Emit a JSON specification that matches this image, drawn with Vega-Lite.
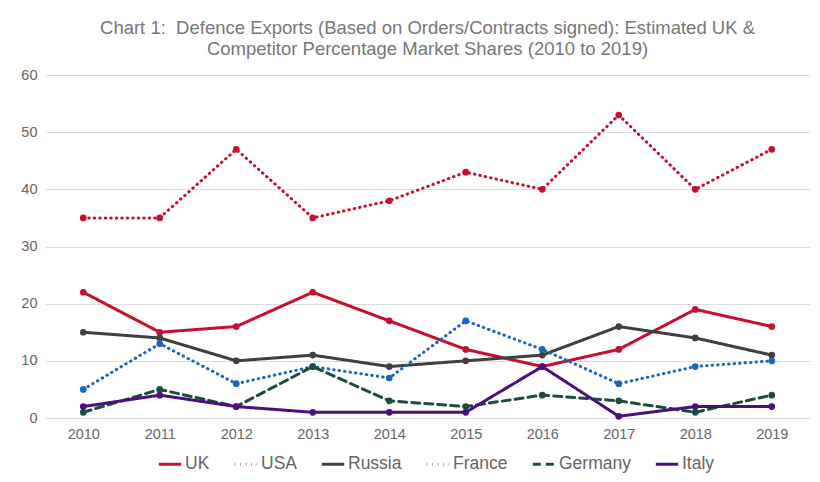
{
  "$schema": "https://vega.github.io/schema/vega-lite/v6.json",
  "width": 765,
  "height": 343,
  "autosize": {"type": "none"},
  "padding": {"left": 45, "top": 75, "right": 10, "bottom": 64},
  "background": "white",
  "title": {
    "text": ["Chart 1:\u00a0 Defence Exports (Based on Orders/Contracts signed): Estimated UK &", "Competitor Percentage Market Shares (2010 to 2019)"],
    "font": "Liberation Sans",
    "fontSize": 18.5,
    "fontWeight": "normal",
    "color": "#777777",
    "lineHeight": 21,
    "anchor": "middle",
    "offset": 9
  },
  "config": {
    "view": {"stroke": null},
    "axis": {"labelFont": "Liberation Sans", "labelColor": "#666666", "labelFontSize": 14.5, "titleColor": "#666666"},
    "legend": {"labelFont": "Liberation Sans", "labelColor": "#666666", "labelFontSize": 17.5}
  },
  "data": {
    "values": [
      {"year": "2010", "country": "UK", "value": 22},
      {"year": "2011", "country": "UK", "value": 15},
      {"year": "2012", "country": "UK", "value": 16},
      {"year": "2013", "country": "UK", "value": 22},
      {"year": "2014", "country": "UK", "value": 17},
      {"year": "2015", "country": "UK", "value": 12},
      {"year": "2016", "country": "UK", "value": 9},
      {"year": "2017", "country": "UK", "value": 12},
      {"year": "2018", "country": "UK", "value": 19},
      {"year": "2019", "country": "UK", "value": 16},
      {"year": "2010", "country": "USA", "value": 35},
      {"year": "2011", "country": "USA", "value": 35},
      {"year": "2012", "country": "USA", "value": 47},
      {"year": "2013", "country": "USA", "value": 35},
      {"year": "2014", "country": "USA", "value": 38},
      {"year": "2015", "country": "USA", "value": 43},
      {"year": "2016", "country": "USA", "value": 40},
      {"year": "2017", "country": "USA", "value": 53},
      {"year": "2018", "country": "USA", "value": 40},
      {"year": "2019", "country": "USA", "value": 47},
      {"year": "2010", "country": "Russia", "value": 15},
      {"year": "2011", "country": "Russia", "value": 14},
      {"year": "2012", "country": "Russia", "value": 10},
      {"year": "2013", "country": "Russia", "value": 11},
      {"year": "2014", "country": "Russia", "value": 9},
      {"year": "2015", "country": "Russia", "value": 10},
      {"year": "2016", "country": "Russia", "value": 11},
      {"year": "2017", "country": "Russia", "value": 16},
      {"year": "2018", "country": "Russia", "value": 14},
      {"year": "2019", "country": "Russia", "value": 11},
      {"year": "2010", "country": "France", "value": 5},
      {"year": "2011", "country": "France", "value": 13},
      {"year": "2012", "country": "France", "value": 6},
      {"year": "2013", "country": "France", "value": 9},
      {"year": "2014", "country": "France", "value": 7},
      {"year": "2015", "country": "France", "value": 17},
      {"year": "2016", "country": "France", "value": 12},
      {"year": "2017", "country": "France", "value": 6},
      {"year": "2018", "country": "France", "value": 9},
      {"year": "2019", "country": "France", "value": 10},
      {"year": "2010", "country": "Germany", "value": 1},
      {"year": "2011", "country": "Germany", "value": 5},
      {"year": "2012", "country": "Germany", "value": 2},
      {"year": "2013", "country": "Germany", "value": 9},
      {"year": "2014", "country": "Germany", "value": 3},
      {"year": "2015", "country": "Germany", "value": 2},
      {"year": "2016", "country": "Germany", "value": 4},
      {"year": "2017", "country": "Germany", "value": 3},
      {"year": "2018", "country": "Germany", "value": 1},
      {"year": "2019", "country": "Germany", "value": 4},
      {"year": "2010", "country": "Italy", "value": 2},
      {"year": "2011", "country": "Italy", "value": 4},
      {"year": "2012", "country": "Italy", "value": 2},
      {"year": "2013", "country": "Italy", "value": 1},
      {"year": "2014", "country": "Italy", "value": 1},
      {"year": "2015", "country": "Italy", "value": 1},
      {"year": "2016", "country": "Italy", "value": 9},
      {"year": "2017", "country": "Italy", "value": 0.3},
      {"year": "2018", "country": "Italy", "value": 2},
      {"year": "2019", "country": "Italy", "value": 2}
    ]
  },
  "encoding": {
    "x": {
      "field": "year", "type": "ordinal",
      "scale": {"type": "point", "padding": 0.5},
      "axis": {"title": null, "labelAngle": 0, "ticks": false, "domain": false, "grid": false, "labelPadding": 9}
    },
    "y": {
      "field": "value", "type": "quantitative",
      "scale": {"domain": [0, 60], "nice": false},
      "axis": {"title": null, "values": [0, 10, 20, 30, 40, 50, 60], "ticks": false, "domain": false, "gridColor": "#dcdcdc", "gridWidth": 1, "labelPadding": 8}
    },
    "color": {
      "field": "country", "type": "nominal",
      "scale": {"domain": ["UK", "USA", "Russia", "France", "Germany", "Italy"], "range": ["#c8102e", "#c8102e", "#404040", "#1a66b8", "#1b4d3e", "#4b0f80"]},
      "legend": {"title": null, "orient": "none", "legendX": 112, "legendY": 376, "direction": "horizontal", "symbolType": "stroke", "symbolSize": 500, "symbolStrokeWidth": 3, "columnPadding": 18, "labelOffset": 2}
    },
    "strokeDash": {
      "field": "country", "type": "nominal",
      "scale": {"domain": ["UK", "USA", "Russia", "France", "Germany", "Italy"], "range": [[1, 0], [0.5, 5], [1, 0], [0.5, 5], [8, 5], [1, 0]]},
      "legend": null
    }
  },
  "layer": [
    {"mark": {"type": "line", "strokeWidth": 3, "strokeCap": "round"}},
    {"mark": {"type": "circle", "size": 45, "opacity": 1}, "encoding": {"strokeDash": null}}
  ]
}
